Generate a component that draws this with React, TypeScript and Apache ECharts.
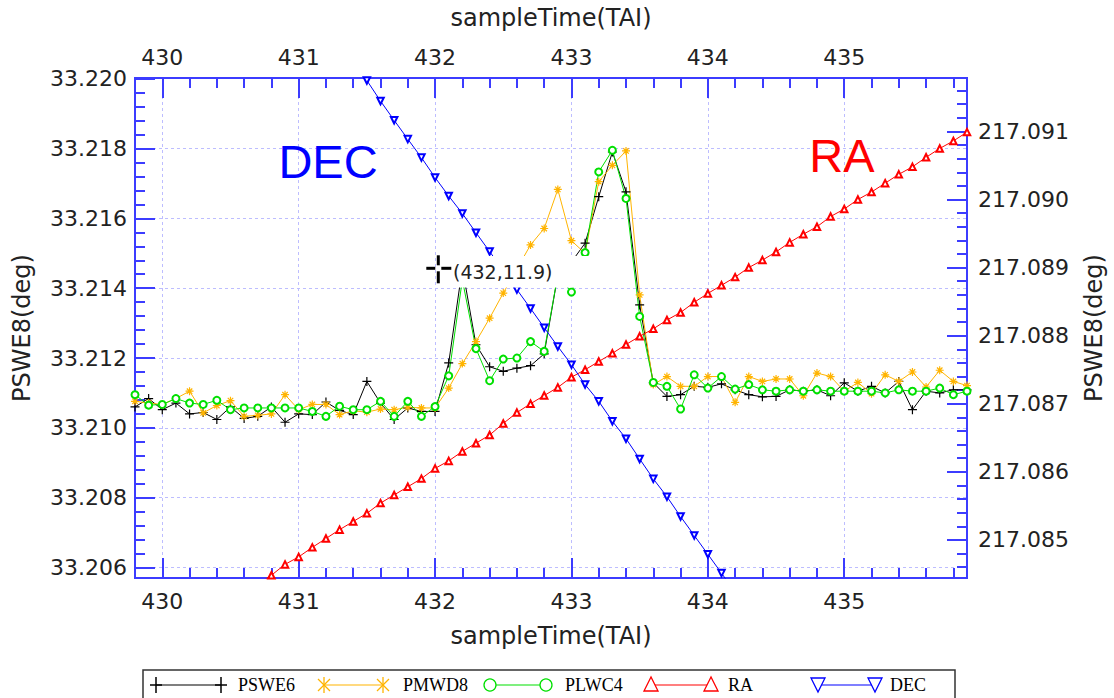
import React, { useEffect, useRef } from 'react';
import * as echarts from 'echarts';

// ---------------- data ----------------
const sampleTime = [
  429.8, 429.9, 430.0, 430.1, 430.2, 430.3, 430.4, 430.5, 430.6, 430.7,
  430.8, 430.9, 431.0, 431.1, 431.2, 431.3, 431.4, 431.5, 431.6, 431.7,
  431.8, 431.9, 432.0, 432.1, 432.2, 432.3, 432.4, 432.5, 432.6, 432.7,
  432.8, 432.9, 433.0, 433.1, 433.2, 433.3, 433.4, 433.5, 433.6, 433.7,
  433.8, 433.9, 434.0, 434.1, 434.2, 434.3, 434.4, 434.5, 434.6, 434.7,
  434.8, 434.9, 435.0, 435.1, 435.2, 435.3, 435.4, 435.5, 435.6, 435.7,
  435.8, 435.9,
];

const pswe6 = [
  33.2106, 33.21084, 33.21052, 33.21071, 33.2104, 33.21044, 33.21024, 33.2106, 33.21027, 33.21033,
  33.2106, 33.21016, 33.2104, 33.21038, 33.21074, 33.2105, 33.21038, 33.21133, 33.21071, 33.21024,
  33.21057, 33.21047, 33.21047, 33.21186, 33.21458, 33.21238, 33.21175, 33.21162, 33.21171, 33.21178,
  33.21212, 33.21438, 33.21475, 33.21529, 33.21662, 33.2179, 33.21676, 33.21352, 33.21129, 33.2109,
  33.21095, 33.21119, 33.21116, 33.21126, 33.21109, 33.21095, 33.21089, 33.2109, 33.21109, 33.21105,
  33.21109, 33.21092, 33.21129, 33.21105, 33.21119, 33.211, 33.21133, 33.21052, 33.21105, 33.211,
  33.21109, 33.21109,
];

const pmwd8 = [
  33.21076, 33.21071, 33.21067, 33.21084, 33.21105, 33.21043, 33.21064, 33.21078, 33.21033, 33.21036,
  33.2104, 33.21095, 33.21052, 33.21067, 33.21067, 33.21038, 33.21049, 33.21045, 33.21054, 33.21052,
  33.21059, 33.21057, 33.21057, 33.21114, 33.21184, 33.21247, 33.21314, 33.21386, 33.21455, 33.21524,
  33.21571, 33.21683, 33.21536, 33.215, 33.21705, 33.21752, 33.21793, 33.21381, 33.21124, 33.21147,
  33.21119, 33.21119, 33.21147, 33.21147, 33.21073, 33.21147, 33.21133, 33.2114, 33.2114, 33.21092,
  33.21157, 33.21147, 33.21105, 33.2113, 33.21098, 33.21152, 33.21133, 33.2116, 33.21117, 33.21165,
  33.21133, 33.21121,
];

const plwc4 = [
  33.21095, 33.21065, 33.21067, 33.21084, 33.21071, 33.21067, 33.21079, 33.21052, 33.21057, 33.21057,
  33.21057, 33.21057, 33.21057, 33.21047, 33.21033, 33.21062, 33.21052, 33.21052, 33.21076, 33.21033,
  33.21076, 33.21033, 33.21061, 33.21149, 33.21424, 33.21227, 33.21135, 33.21197, 33.212, 33.21247,
  33.21219, 33.21438, 33.21389, 33.21502, 33.21733, 33.21795, 33.21657, 33.21319, 33.2113, 33.21119,
  33.21054, 33.21152, 33.21114, 33.21147, 33.21111, 33.21124, 33.21109, 33.21105, 33.21109, 33.21105,
  33.21109, 33.21105, 33.21105, 33.21105, 33.21105, 33.211, 33.21109, 33.21105, 33.21105, 33.21114,
  33.21095, 33.21105,
];

const decTime = [
  431.4, 431.5, 431.6, 431.7, 431.8, 431.9, 432.0, 432.1, 432.2, 432.3,
  432.4, 432.5, 432.6, 432.7, 432.8, 432.9, 433.0, 433.1, 433.2, 433.3,
  433.4, 433.5, 433.6, 433.7, 433.8, 433.9, 434.0, 434.1, 434.2,
];
const dec = [
  33.22049, 33.21995, 33.21936, 33.21881, 33.21827, 33.21774, 33.21717, 33.21664, 33.21614, 33.21559,
  33.21505, 33.21451, 33.21396, 33.21342, 33.21287, 33.21233, 33.21181, 33.21124, 33.21076, 33.21019,
  33.20969, 33.20911, 33.20854, 33.20803, 33.20746, 33.20692, 33.20638, 33.20584, 33.20529,
];

const raTime = [
  430.7, 430.8, 430.9, 431.0, 431.1, 431.2, 431.3, 431.4, 431.5, 431.6,
  431.7, 431.8, 431.9, 432.0, 432.1, 432.2, 432.3, 432.4, 432.5, 432.6,
  432.7, 432.8, 432.9, 433.0, 433.1, 433.2, 433.3, 433.4, 433.5, 433.6,
  433.7, 433.8, 433.9, 434.0, 434.1, 434.2, 434.3, 434.4, 434.5, 434.6,
  434.7, 434.8, 434.9, 435.0, 435.1, 435.2, 435.3, 435.4, 435.5, 435.6,
  435.7, 435.8, 435.9,
];
const ra = [
  217.08435, 217.08448, 217.08464, 217.08475, 217.08489, 217.08502, 217.08515, 217.08527, 217.08539, 217.08554,
  217.08566, 217.08578, 217.0859, 217.08605, 217.08616, 217.0863, 217.08642, 217.08654, 217.08671, 217.08687,
  217.087, 217.08712, 217.08724, 217.08739, 217.0875, 217.08762, 217.08774, 217.08787, 217.08799, 217.0881,
  217.08823, 217.08834, 217.08849, 217.08862, 217.08874, 217.08886, 217.089, 217.08911, 217.08923, 217.08937,
  217.08949, 217.0896, 217.08975, 217.08986, 217.09, 217.09011, 217.09024, 217.09037, 217.09048, 217.09062,
  217.09075, 217.09086, 217.09099,
];

const xMajorTicks = [430, 431, 432, 433, 434, 435];
const leftMajorTicks = [33.206, 33.208, 33.21, 33.212, 33.214, 33.216, 33.218, 33.22];
const rightMajorTicks = [217.085, 217.086, 217.087, 217.088, 217.089, 217.09, 217.091];

const legendNames = ['PSWE6', 'PMWD8', 'PLWC4', 'RA', 'DEC'];
const axisTitleX = 'sampleTime(TAI)';
const axisTitleY = 'PSWE8(deg)';
const cursorText = '(432,11.9)';

// ---------------- layout / style ----------------
const X_MIN = 429.8, X_MAX = 435.9;
const L_MIN = 33.2057, L_MAX = 33.22002;
const R_MIN = 217.08444, R_MAX = 217.091785;

const AXIS_BLUE = '#3c3cff';
const GRID_COLOR = '#bdbdff';
const TEXT_COLOR = '#222';
const FONT = 'DejaVu Sans';

const COLORS = ['#000000', '#ffb400', '#00e000', '#ff0000', '#0000ff'];

function minorTicks(majors: number[], parts: number, min: number, max: number) {
  const step = (majors[1] - majors[0]) / parts;
  const out: number[] = [];
  for (let k = -parts * 3; k <= (majors.length + 3) * parts; k++) {
    const v = majors[0] + k * step;
    if (v >= min - step * 1e-6 && v <= max + step * 1e-6) out.push(v);
  }
  return out;
}

const plusPath = 'path://M0,5L10,5M5,0L5,10';
const starPath = 'path://M5,0L5,10M0,5L10,5M1.6,1.6L8.4,8.4M1.6,8.4L8.4,1.6';

function minorAxis(position: string, min: number, max: number, ticks: number[]) {
  return {
    type: 'value', position, min, max,
    axisLine: { show: true, onZero: false, lineStyle: { color: AXIS_BLUE, width: 2 } },
    axisTick: { show: true, inside: true, length: 10, customValues: ticks, lineStyle: { color: AXIS_BLUE, width: 2 } },
    axisLabel: { show: false },
    splitLine: { show: false },
  };
}

function majorAxis(position: string, min: number, max: number, ticks: number[], fmt: (v: number) => string,
  margin: number, split: boolean, nameGap: number) {
  return {
    type: 'value', position, min, max,
    axisLine: { show: true, onZero: false, lineStyle: { color: AXIS_BLUE, width: 2 } },
    axisTick: { show: true, inside: true, length: 20, customValues: ticks, lineStyle: { color: AXIS_BLUE, width: 2 } },
    axisLabel: {
      show: true, customValues: ticks, formatter: fmt, margin,
      fontSize: 22, fontFamily: FONT, color: TEXT_COLOR,
    },
    splitLine: { show: split, lineStyle: { color: GRID_COLOR, width: 1, type: [3, 3] } },
    name: position === 'top' || position === 'bottom' ? axisTitleX : axisTitleY,
    nameLocation: 'middle',
    nameGap,
    nameTextStyle: { fontSize: 24, fontFamily: FONT, color: TEXT_COLOR },
  };
}

function lineSeries(name: string, xs: number[], ys: number[], yAxisIndex: number, color: string, symbol: string,
  size: number, extra: any = {}) {
  const isPath = symbol.startsWith('path://');
  return {
    name, type: 'line', xAxisIndex: 0, yAxisIndex,
    data: xs.map((t, i) => [t, ys[i]]),
    symbol, symbolSize: size, symbolKeepAspect: true,
    showSymbol: true, clip: true,
    lineStyle: { color, width: 1 },
    itemStyle: isPath
      ? { color: 'rgba(0,0,0,0)', borderColor: color, borderWidth: 1.2 }
      : { color, borderColor: color, borderWidth: 1 },
    emphasis: { disabled: true },
    ...extra,
  };
}

function legendGraphics() {
  const els: any[] = [];
  const cy = 685;
  const markerX = [[156, 221], [324, 383], [490, 546], [651, 711], [818, 875]];
  const textX = [238, 403, 565, 728, 890];
  els.push({ type: 'rect', shape: { x: 143, y: 670, width: 812, height: 40 }, style: { fill: '#fff', stroke: '#333', lineWidth: 1.5 }, z: 100 });
  legendNames.forEach((nm, i) => {
    const c = COLORS[i];
    const [a, b] = markerX[i];
    els.push({ type: 'line', shape: { x1: a, y1: cy, x2: b, y2: cy }, style: { stroke: c, lineWidth: 1.2 }, z: 101 });
    [a, b].forEach((mx) => {
      const s = 6;
      if (i === 0) {
        els.push({ type: 'line', shape: { x1: mx - s, y1: cy, x2: mx + s, y2: cy }, style: { stroke: c, lineWidth: 1.5 }, z: 102 });
        els.push({ type: 'line', shape: { x1: mx, y1: cy - s - 2, x2: mx, y2: cy + s + 2 }, style: { stroke: c, lineWidth: 1.5 }, z: 102 });
      } else if (i === 1) {
        els.push({ type: 'line', shape: { x1: mx, y1: cy - s - 2, x2: mx, y2: cy + s + 2 }, style: { stroke: c, lineWidth: 1.3 }, z: 102 });
        els.push({ type: 'line', shape: { x1: mx - s, y1: cy - s, x2: mx + s, y2: cy + s }, style: { stroke: c, lineWidth: 1.3 }, z: 102 });
        els.push({ type: 'line', shape: { x1: mx - s, y1: cy + s, x2: mx + s, y2: cy - s }, style: { stroke: c, lineWidth: 1.3 }, z: 102 });
      } else if (i === 2) {
        els.push({ type: 'circle', shape: { cx: mx, cy, r: 6 }, style: { fill: '#fff', stroke: c, lineWidth: 1.3 }, z: 102 });
      } else if (i === 3) {
        els.push({ type: 'polygon', shape: { points: [[mx, cy - 8], [mx - 7, cy + 6], [mx + 7, cy + 6]] }, style: { fill: '#fff', stroke: c, lineWidth: 1.3 }, z: 102 });
      } else {
        els.push({ type: 'polygon', shape: { points: [[mx - 7, cy - 7], [mx + 7, cy - 7], [mx, cy + 7]] }, style: { fill: '#fff', stroke: c, lineWidth: 1.3 }, z: 102 });
      }
    });
    els.push({
      type: 'text', x: textX[i], y: cy, z: 102,
      style: { text: nm, fill: '#000', font: '18px "Liberation Serif"', textAlign: 'left', textVerticalAlign: 'middle' },
    });
  });
  return els;
}

function annotationGraphics() {
  const els: any[] = [];
  // cursor read-out box (covers the data beneath it)
  els.push({ type: 'rect', shape: { x: 447, y: 256, width: 146, height: 31.5 }, style: { fill: '#fff' }, z: 90 });
  const cx = 438.3, cyy = 268.3;
  const arms = [
    [cx - 12, cyy, cx - 3, cyy], [cx + 3, cyy, cx + 13, cyy],
    [cx, cyy - 13, cx, cyy - 3], [cx, cyy + 3, cx, cyy + 15],
  ];
  arms.forEach(([x1, y1, x2, y2]) => {
    els.push({ type: 'line', shape: { x1, y1, x2, y2 }, style: { stroke: '#000', lineWidth: 3 }, z: 91 });
  });
  els.push({
    type: 'text', x: 453, y: 272, z: 91,
    style: { text: cursorText, fill: TEXT_COLOR, font: `19px "${FONT}"`, textAlign: 'left', textVerticalAlign: 'middle' },
  });
  els.push({
    type: 'text', x: 328, y: 161, z: 91,
    style: { text: 'DEC', fill: '#0000ff', font: '47px "Liberation Sans"', textAlign: 'center', textVerticalAlign: 'middle' },
  });
  els.push({
    type: 'text', x: 842, y: 155, z: 91,
    style: { text: 'RA', fill: '#ff0000', font: '47px "Liberation Sans"', textAlign: 'center', textVerticalAlign: 'middle' },
  });
  return els;
}

export default function App() {
  const ref = useRef<HTMLDivElement>(null);
  useEffect(() => {
    document.body.style.margin = '0';
    if (!ref.current) return;
    const chart = echarts.init(ref.current, null, { renderer: 'svg' });
    const xMinor = minorTicks(xMajorTicks, 5, X_MIN, X_MAX);
    const lMinor = minorTicks(leftMajorTicks, 5, L_MIN, L_MAX);
    const rMinor = minorTicks(rightMajorTicks, 5, R_MIN, R_MAX);
    const fmtX = (v: number) => String(Math.round(v));
    const fmt3 = (v: number) => Number(v).toFixed(3);
    const option: any = {
      animation: false,
      backgroundColor: '#ffffff',
      grid: { left: 135, right: 140, top: 78, bottom: 120, containLabel: false },
      xAxis: [
        minorAxis('bottom', X_MIN, X_MAX, xMinor),
        majorAxis('bottom', X_MIN, X_MAX, xMajorTicks, fmtX, 12, true, 46),
        minorAxis('top', X_MIN, X_MAX, xMinor),
        majorAxis('top', X_MIN, X_MAX, xMajorTicks, fmtX, 10, false, 48),
      ],
      yAxis: [
        minorAxis('left', L_MIN, L_MAX, lMinor),
        majorAxis('left', L_MIN, L_MAX, leftMajorTicks, fmt3, 8, true, 101),
        minorAxis('right', R_MIN, R_MAX, rMinor),
        majorAxis('right', R_MIN, R_MAX, rightMajorTicks, fmt3, 11, false, 115),
      ],
      series: [
        lineSeries(legendNames[0], sampleTime, pswe6, 0, COLORS[0], plusPath, 9),
        lineSeries(legendNames[1], sampleTime, pmwd8, 0, COLORS[1], starPath, 8),
        lineSeries(legendNames[2], sampleTime, plwc4, 0, COLORS[2], 'emptyCircle', 7),
        lineSeries(legendNames[3], raTime, ra, 2, COLORS[3], 'emptyTriangle', 6.5),
        lineSeries(legendNames[4], decTime, dec, 0, COLORS[4], 'emptyTriangle', 6.5, { symbolRotate: 180 }),
      ],
      graphic: [...annotationGraphics(), ...legendGraphics()],
    };
    chart.setOption(option);
    return () => chart.dispose();
  }, []);
  return <div ref={ref} style={{ width: 1114, height: 698 }} />;
}
